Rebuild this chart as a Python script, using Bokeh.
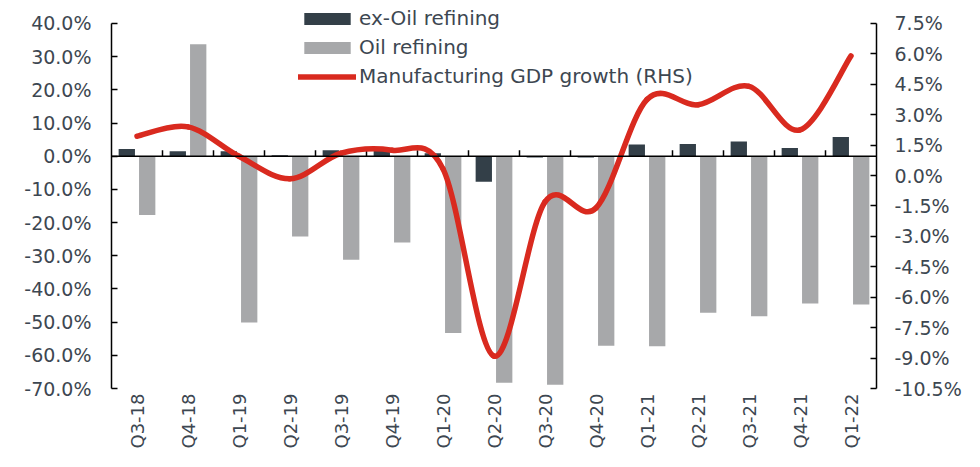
import math
from bokeh.plotting import figure
from bokeh.models import (Range1d, LinearAxis, FixedTicker, PrintfTickFormatter,
                          Span, Legend, LegendItem, ColumnDataSource)
from bokeh.transform import dodge
from bokeh.embed import file_html
from bokeh.resources import INLINE

categories = ["Q3-18", "Q4-18", "Q1-19", "Q2-19", "Q3-19", "Q4-19", "Q1-20", "Q2-20",
              "Q3-20", "Q4-20", "Q1-21", "Q2-21", "Q3-21", "Q4-21", "Q1-22"]
ex_oil = [2.2, 1.5, 1.5, 0.3, 1.8, 1.6, 0.9, -7.7, -0.4, -0.4, 3.5, 3.7, 4.4, 2.5, 5.8]
oil = [-17.7, 33.7, -50.1, -24.2, -31.2, -26.0, -53.3, -68.3, -68.9, -57.1, -57.3,
       -47.2, -48.2, -44.4, -44.7]
gdp = [1.94, 2.4, 0.95, -0.16, 1.1, 1.25, 0.33, -8.9, -1.3, -1.6, 3.75, 3.49, 4.4,
       2.25, 5.9]
left_ticks = [-70, -60, -50, -40, -30, -20, -10, 0, 10, 20, 30, 40]
right_ticks = [-10.5, -9.0, -7.5, -6.0, -4.5, -3.0, -1.5, 0.0, 1.5, 3.0, 4.5, 6.0, 7.5]

FONT = "DejaVu Sans"
TXT = "#3d4751"
DARK = "#333f48"
GRAY = "#a7a8aa"
RED = "#d92a1f"

n = len(categories)
xs = list(range(n))

# frame: top of axes at 23px, bottom at 389px; extra 20px of headroom for the legend
axis_px = 366.0
head_px = 20.0
pad = head_px / axis_px
l_lo, l_hi = left_ticks[0], left_ticks[-1]
r_lo, r_hi = right_ticks[0], right_ticks[-1]

p = figure(width=964, height=451, output_backend="svg", toolbar_location=None,
           x_range=Range1d(-0.5, n - 0.5),
           y_range=Range1d(l_lo, l_hi + (l_hi - l_lo) * pad),
           min_border_left=111, min_border_right=85, min_border_top=3, min_border_bottom=62)
p.extra_y_ranges = {"rhs": Range1d(r_lo, r_hi + (r_hi - r_lo) * pad)}
p.outline_line_color = None
p.xgrid.visible = False
p.ygrid.visible = False
p.background_fill_color = "white"
p.border_fill_color = "white"

src = ColumnDataSource(dict(x=xs, ex=ex_oil, oil=oil))
r_ex = p.vbar(x=dodge("x", -0.2, range=p.x_range), top="ex", bottom=0, width=0.32,
              source=src, fill_color=DARK, line_color=None)
r_oil = p.vbar(x=dodge("x", 0.2, range=p.x_range), top="oil", bottom=0, width=0.32,
               source=src, fill_color=GRAY, line_color=None)

# zero line and category boundary ticks
p.add_layout(Span(location=0, dimension="width", line_color="black", line_width=1.5))
bounds = [i + 0.5 for i in range(n - 1)]
p.segment(x0=bounds, x1=bounds, y0=[0] * len(bounds), y1=[1.8] * len(bounds),
          line_color="black", line_width=1.5)

# smoothed line (Catmull-Rom style bezier through the data points)
pts = list(zip(xs, gdp))
bx0, by0, bx1, by1, cx0, cy0, cx1, cy1 = [], [], [], [], [], [], [], []
for i in range(n - 1):
    p0 = pts[i - 1] if i > 0 else pts[i]
    p1 = pts[i]
    p2 = pts[i + 1]
    p3 = pts[i + 2] if i + 2 < n else pts[i + 1]
    bx0.append(p1[0]); by0.append(p1[1]); bx1.append(p2[0]); by1.append(p2[1])
    cx0.append(p1[0] + (p2[0] - p0[0]) / 6); cy0.append(p1[1] + (p2[1] - p0[1]) / 6)
    cx1.append(p2[0] - (p3[0] - p1[0]) / 6); cy1.append(p2[1] - (p3[1] - p1[1]) / 6)
r_line = p.bezier(x0=bx0, y0=by0, x1=bx1, y1=by1, cx0=cx0, cy0=cy0, cx1=cx1, cy1=cy1,
                  line_color=RED, line_width=5.5, line_cap="round", y_range_name="rhs")

# axes
xa = p.xaxis[0]
xa.ticker = FixedTicker(ticks=xs)
xa.major_label_overrides = {i: c for i, c in enumerate(categories)}
xa.major_label_orientation = math.pi / 2
xa.axis_line_color = None
xa.major_tick_line_color = None
xa.major_tick_in = 0
xa.major_tick_out = 0
xa.minor_tick_line_color = None
xa.minor_tick_out = 0
xa.major_label_standoff = 5
xa.major_label_text_font = FONT
xa.major_label_text_font_size = "18px"
xa.major_label_text_color = TXT

ya = p.yaxis[0]
ya.ticker = FixedTicker(ticks=left_ticks)
ya.formatter = PrintfTickFormatter(format="%.1f%%")
ya.bounds = (l_lo, l_hi)
ra = LinearAxis(y_range_name="rhs", ticker=FixedTicker(ticks=right_ticks),
                formatter=PrintfTickFormatter(format="%.1f%%"), bounds=(r_lo, r_hi))
p.add_layout(ra, "right")
for a in (ya, ra):
    a.axis_line_color = "black"
    a.axis_line_width = 1.5
    a.major_tick_line_color = "black"
    a.major_tick_line_width = 1.5
    a.major_tick_in = 6
    a.major_tick_out = 0
    a.minor_tick_line_color = None
    a.minor_tick_out = 0
    a.major_label_text_font = FONT
    a.major_label_text_font_size = "19px"
    a.major_label_text_color = TXT
ya.major_label_standoff = 20
ra.major_label_standoff = 18

legend = Legend(items=[LegendItem(label="ex-Oil refining", renderers=[r_ex]),
                       LegendItem(label="Oil refining", renderers=[r_oil]),
                       LegendItem(label="Manufacturing GDP growth (RHS)", renderers=[r_line])],
                location=(187, 300), orientation="vertical",
                background_fill_alpha=0, border_line_color=None,
                padding=0, margin=0, spacing=5, glyph_width=58, glyph_height=15,
                label_standoff=3, label_text_font=FONT, label_text_font_size="20px",
                label_text_color=TXT)
p.add_layout(legend, "center")

open("out.html", "w").write(file_html(p, INLINE))
